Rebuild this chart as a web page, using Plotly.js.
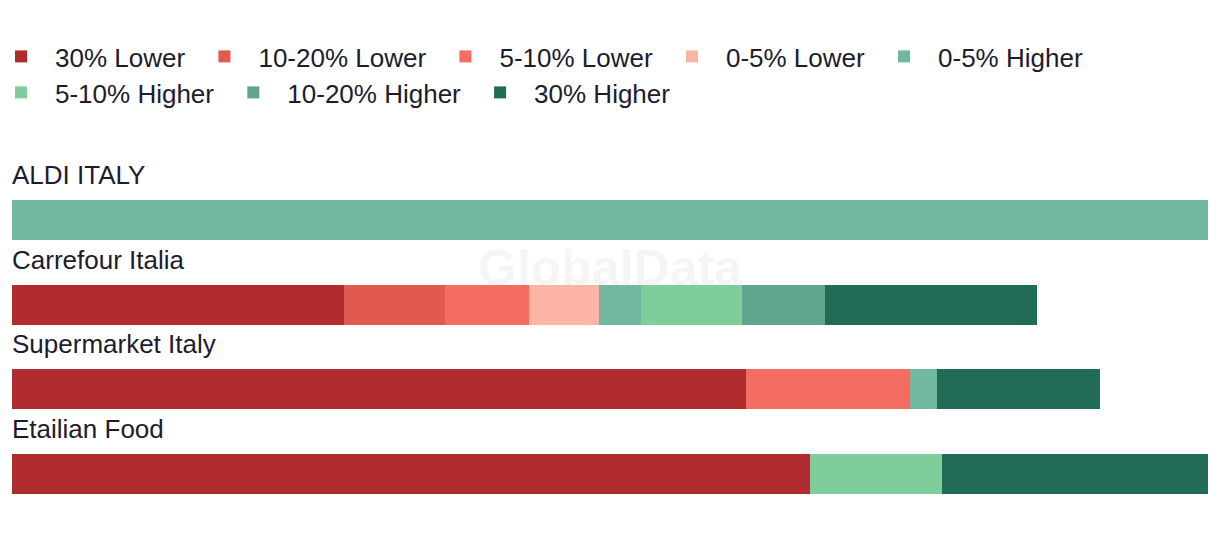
<!DOCTYPE html>
<html>
<head>
<meta charset="utf-8">
<script src="https://cdn.plot.ly/plotly-3.0.1.min.js"></script>
<style>html,body{margin:0;padding:0;background:#fff;}#chart{width:1220px;height:538px;}</style>
</head>
<body>
<div id="chart"></div>
<script>
// Retailers (top to bottom)
const retailers = ["ALDI ITALY", "Carrefour Italia", "Supermarket Italy", "Etailian Food"];
// Price-difference bands (legend order)
const bands = ["30% Lower", "10-20% Lower", "5-10% Lower", "0-5% Lower",
               "0-5% Higher", "5-10% Higher", "10-20% Higher", "30% Higher"];
const bandColors = ["#b02c2e", "#e05a4f", "#f46d62", "#fdb4a5",
                    "#70b8a0", "#80cd9c", "#60a68f", "#216b57"];
// Share of products per band, per retailer (order follows retailers)
const lower30  = [0,    27.8, 61.4, 66.7];
const lower10  = [0,    8.4,  0,    0];
const lower5   = [0,    7.0,  13.7, 0];
const lower0   = [0,    5.9,  0,    0];
const higher0  = [100,  3.5,  2.2,  0];
const higher5  = [0,    8.4,  0,    11.1];
const higher10 = [0,    7.0,  0,    0];
const higher30 = [0,    17.7, 13.7, 22.2];
const series = [lower30, lower10, lower5, lower0, higher0, higher5, higher10, higher30];

const textColor = "#1c1c2e";
const font = "Liberation Sans, Arial, sans-serif";

const traces = bands.map((b, i) => ({
  type: "bar",
  orientation: "h",
  name: b,
  y: retailers,
  x: series[i],
  marker: {color: bandColors[i], line: {width: 0}},
  width: 0.472,
  legend: i < 5 ? "legend" : "legend2",
  hoverinfo: "name+x"
}));

const annotations = retailers.map(r => ({
  xref: "paper", x: 0, xanchor: "left", xshift: -2,
  yref: "y", y: r, yanchor: "middle", yshift: 45,
  text: r, showarrow: false,
  font: {family: font, size: 26, color: textColor}
}));
annotations.push({
  xref: "paper", x: 0.5, yref: "paper", y: 0.733,
  xanchor: "center", yanchor: "middle",
  text: "<b>GlobalData</b>", showarrow: false,
  font: {family: font, size: 50, color: "rgba(0,0,0,0.04)"}
});

const legendBase = {
  orientation: "h",
  xref: "paper", x: -0.0209, xanchor: "left",
  yref: "paper", yanchor: "top",
  font: {family: font, size: 26, color: textColor},
  itemwidth: 58,
  traceorder: "normal", itemclick: false, tracegroupgap: 0,
  bgcolor: "rgba(0,0,0,0)"
};

const layout = {
  width: 1220, height: 538,
  margin: {l: 12, r: 12, t: 178, b: 22, pad: 0, autoexpand: false},
  paper_bgcolor: "#fff", plot_bgcolor: "#fff",
  barmode: "stack",
  showlegend: true,
  legend: Object.assign({}, legendBase, {y: 1.429}),
  legend2: Object.assign({}, legendBase, {y: 1.3225}),
  xaxis: {range: [0, 100], visible: false, fixedrange: true},
  yaxis: {type: "category", range: [3.5, -0.5], visible: false, fixedrange: true},
  annotations: annotations,
  font: {family: font, color: textColor}
};

Plotly.newPlot("chart", traces, layout, {displayModeBar: false, staticPlot: true});
</script>
</body>
</html>
